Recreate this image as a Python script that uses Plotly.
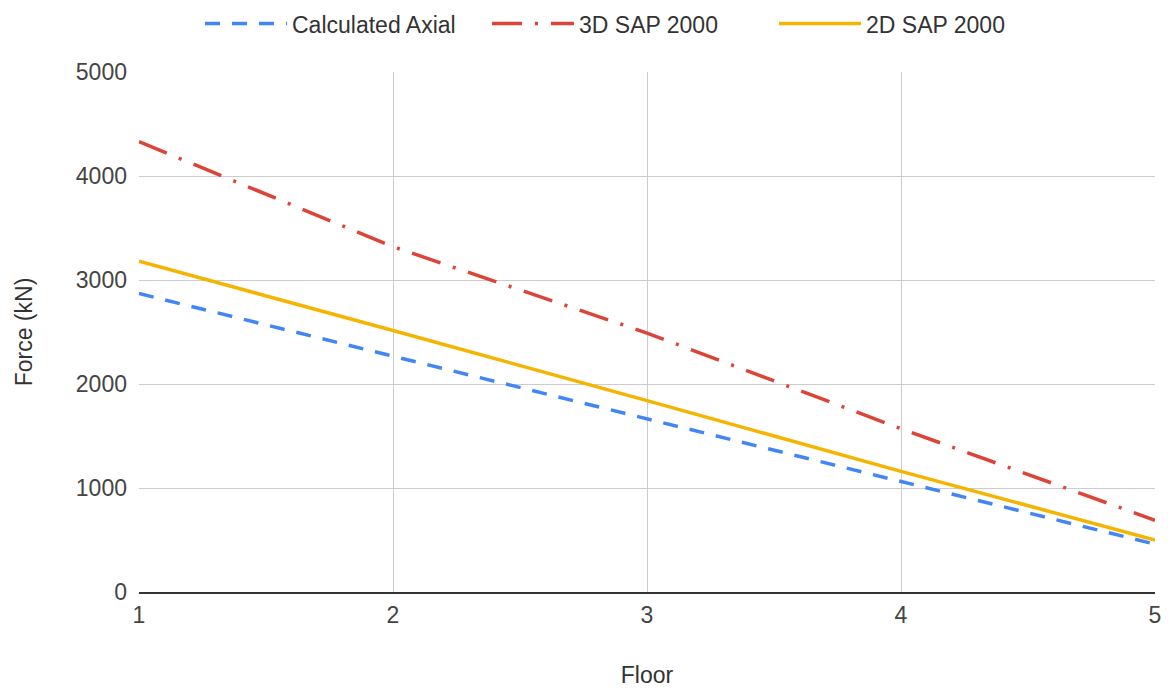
import plotly.graph_objects as go

floors = [1, 2, 3, 4, 5]
calculated_axial = [2870, 2268, 1660, 1062, 460]
sap3d = [4330, 3320, 2490, 1570, 690]
sap2d = [3180, 2515, 1840, 1160, 500]

fig = go.Figure()
fig.add_trace(go.Scatter(x=floors, y=calculated_axial, mode="lines", name="Calculated Axial",
                         line=dict(color="#4285F4", width=3.5, dash="15px,12px")))
fig.add_trace(go.Scatter(x=floors, y=sap3d, mode="lines", name="3D SAP 2000",
                         line=dict(color="#DB4437", width=3.5, dash="30px,13px,3px,13px")))
fig.add_trace(go.Scatter(x=floors, y=sap2d, mode="lines", name="2D SAP 2000",
                         line=dict(color="#F4B400", width=3.5)))

fig.update_layout(
    width=1171, height=690,
    margin=dict(l=139, r=16, t=72, b=98),
    paper_bgcolor="white", plot_bgcolor="white",
    font=dict(family="Liberation Sans, Arial", size=23, color="#444444"),
    legend=dict(orientation="h", xref="container", x=200 / 1171, xanchor="left",
                yref="container", y=0.997, yanchor="top",
                itemwidth=82, entrywidth=190, entrywidthmode="pixels",
                font=dict(size=23, color="#333333")),
    showlegend=True,
)
fig.update_xaxes(range=[1, 5], dtick=1, tick0=1, showgrid=True, gridcolor="#cccccc",
                 gridwidth=1, zeroline=False, showline=True, linecolor="#333333", linewidth=1.5,
                 ticks="", ticklabelstandoff=2, automargin=False,
                 title=dict(text="Floor", standoff=40, font=dict(size=23, color="#333333")))
fig.update_yaxes(range=[0, 5000], dtick=1000, showgrid=True, gridcolor="#cccccc",
                 gridwidth=1, zeroline=False, showline=False, ticks="", ticklabelstandoff=11,
                 automargin=False,
                 title=dict(text="Force (kN)", standoff=36, font=dict(size=23, color="#333333")))

fig.write_html("out.html")
